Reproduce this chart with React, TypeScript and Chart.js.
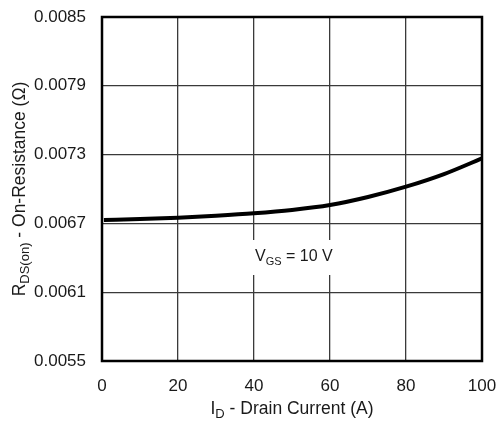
import React, { useEffect, useRef } from "react";
import { Chart, registerables } from "chart.js";

Chart.register(...registerables);

const currentA = [0.5, 10, 20, 30, 40, 50, 60, 70, 80, 90, 100];
const rdsOhm = [0.00673, 0.006738, 0.00675, 0.006767, 0.006788, 0.006817, 0.00686, 0.00693, 0.00702, 0.00713, 0.007267];
const yTickValues = [0.0055, 0.0061, 0.0067, 0.0073, 0.0079, 0.0085];
const xTickValues = [0, 20, 40, 60, 80, 100];
const annotationPos = { x: 40, y: 0.006407 };

const FONT = "'Liberation Sans', Arial, sans-serif";
const TEXT = "#1a1a1a";

type Seg = { t: string; sub?: boolean };

function drawRich(ctx: CanvasRenderingContext2D, segs: Seg[], x: number, y: number, align: "center" | "left", size: number, subSize: number) {
  let total = 0;
  const widths = segs.map((s) => {
    ctx.font = `${s.sub ? subSize : size}px ${FONT}`;
    const w = ctx.measureText(s.t).width;
    total += w;
    return w;
  });
  let cx = align === "center" ? x - total / 2 : x;
  ctx.textBaseline = "middle";
  ctx.textAlign = "left";
  ctx.fillStyle = TEXT;
  segs.forEach((s, i) => {
    ctx.font = `${s.sub ? subSize : size}px ${FONT}`;
    ctx.fillText(s.t, cx, s.sub ? y + size * 0.3 : y);
    cx += widths[i];
  });
  return total;
}

const decorPlugin = {
  id: "decor",
  afterDraw(chart: any) {
    const ctx = chart.ctx as CanvasRenderingContext2D;
    const { left, right, top, bottom } = chart.chartArea;
    const xs = chart.scales.x;
    const ys = chart.scales.y;
    ctx.save();
    // frame
    ctx.strokeStyle = "#000";
    ctx.lineWidth = 2.5;
    ctx.strokeRect(left, top, right - left, bottom - top);
    // annotation
    const ax = xs.getPixelForValue(annotationPos.x);
    const ay = ys.getPixelForValue(annotationPos.y);
    const segs: Seg[] = [{ t: "V" }, { t: "GS", sub: true }, { t: " = 10 V" }];
    let w = 0;
    segs.forEach((s) => {
      ctx.font = `${s.sub ? 11 : 16}px ${FONT}`;
      w += ctx.measureText(s.t).width;
    });
    ctx.fillStyle = "#fff";
    ctx.fillRect(ax - 2, ay - 17, w + 6, 35);
    drawRich(ctx, segs, ax + 1, ay, "left", 16, 11);
    // x title
    drawRich(ctx, [{ t: "I" }, { t: "D", sub: true }, { t: " - Drain Current (A)" }], (left + right) / 2, 409, "center", 17.5, 13);
    // y title
    ctx.translate(20, (top + bottom) / 2);
    ctx.rotate(-Math.PI / 2);
    drawRich(ctx, [{ t: "R" }, { t: "DS(on)", sub: true }, { t: " - On-Resistance (Ω)" }], 0, 0, "center", 17.5, 13);
    ctx.restore();
  },
};

export default function App() {
  const ref = useRef<HTMLCanvasElement>(null);
  useEffect(() => {
    const chart = new Chart(ref.current!, {
      type: "line",
      data: {
        datasets: [
          {
            data: currentA.map((x, i) => ({ x, y: rdsOhm[i] })),
            borderColor: "#000",
            borderWidth: 4,
            pointRadius: 0,
            cubicInterpolationMode: "monotone",
            fill: false,
          },
        ],
      },
      options: {
        animation: false,
        responsive: false,
        devicePixelRatio: 1,
        layout: { padding: { left: 0, right: 15, top: 17, bottom: 0 } },
        plugins: { legend: { display: false }, tooltip: { enabled: false } },
        scales: {
          x: {
            type: "linear",
            min: 0,
            max: 100,
            afterBuildTicks: (s: any) => {
              s.ticks = xTickValues.map((v) => ({ value: v }));
            },
            afterFit: (s: any) => {
              s.height = 69;
              s.paddingLeft = 0;
              s.paddingRight = 0;
            },
            grid: { color: "#3a3a3a", lineWidth: 1.3, drawTicks: false },
            border: { display: false },
            ticks: { padding: 15, color: TEXT, font: { family: FONT, size: 17 }, maxRotation: 0 },
          },
          y: {
            type: "linear",
            min: 0.0055,
            max: 0.0085,
            afterBuildTicks: (s: any) => {
              s.ticks = yTickValues.map((v) => ({ value: v }));
            },
            afterFit: (s: any) => {
              s.width = 102;
              s.paddingTop = 0;
              s.paddingBottom = 0;
            },
            grid: { color: "#3a3a3a", lineWidth: 1.3, drawTicks: false },
            border: { display: false },
            ticks: {
              padding: 16,
              color: TEXT,
              font: { family: FONT, size: 17 },
              callback: (v: any) => Number(v).toFixed(4),
            },
          },
        },
      },
      plugins: [decorPlugin],
    } as any);
    return () => chart.destroy();
  }, []);
  return (
    <div style={{ position: "absolute", left: 0, top: 0, width: 497, height: 430, background: "#fff" }}>
      <canvas ref={ref} width={497} height={430} style={{ width: 497, height: 430 }} />
    </div>
  );
}
